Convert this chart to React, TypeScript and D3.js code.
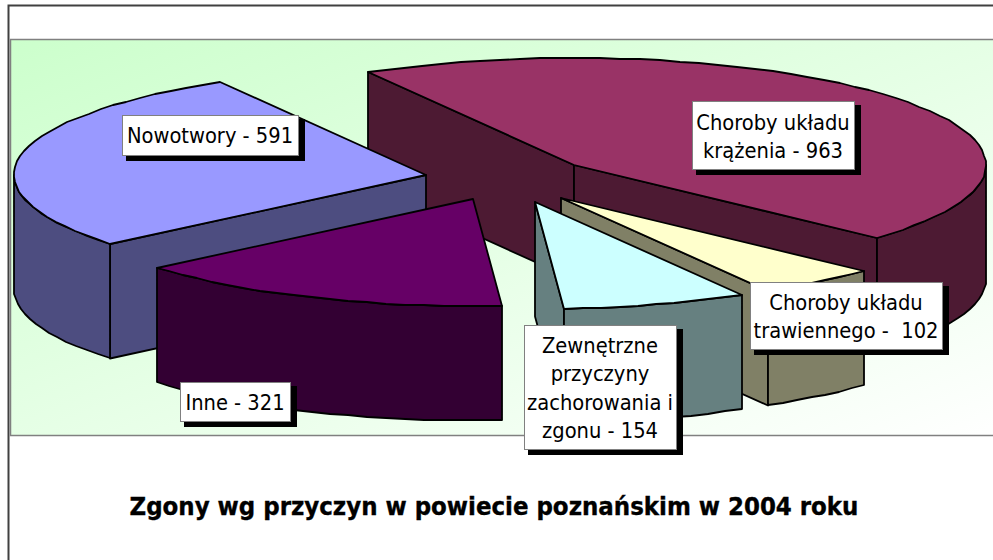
import React from "react";
import * as d3 from "d3";

const categories = [
  "Choroby układu krążenia",
  "Choroby układu trawiennego",
  "Zewnętrzne przyczyny zachorowania i zgonu",
  "Inne",
  "Nowotwory",
];
const values = [963, 102, 154, 321, 591];
const topColors = ["#993366", "#FFFFCC", "#CCFFFF", "#660066", "#9999FF"];
const wallColors = ["#4D1A33", "#808066", "#668080", "#330033", "#4D4D80"];
const labelLines = [
  ["Choroby układu", "krążenia - 963"],
  ["Choroby układu", "trawiennego -  102"],
  ["Zewnętrzne", "przyczyny", "zachorowania i", "zgonu - 154"],
  ["Inne - 321"],
  ["Nowotwory - 591"],
];
const title = "Zgony wg przyczyn w powiecie poznańskim w 2004 roku";

// layout (exploded slice centres and label boxes)
const W = 993, H = 560;
const RX = 412, RY = 107, DEPTH = 114.5;
const centres: [number, number][] = [[574, 165], [561, 198], [535, 202], [473, 199], [426, 175]];
const boxes = [
  { x: 692, y: 101, w: 162, h: 68, base: 130 },
  { x: 750, y: 282, w: 192, h: 67, base: 310 },
  { x: 524, y: 325, w: 152, h: 124, base: 353 },
  { x: 180, y: 382, w: 110, h: 39, base: 410 },
  { x: 122, y: 115, w: 176, h: 40, base: 143 },
];
const drawOrder = [0, 4, 3, 1, 2];
const LINE = 28.3;
const FONT = "'DejaVu Sans Condensed','DejaVu Sans',sans-serif";

const pie = d3.pie<number>().sort(null).startAngle(-Math.PI / 6).endAngle(2 * Math.PI - Math.PI / 6);
const arcs = pie(values);
const line = d3.line();
const STEP = Math.PI / 64;

function pt(c: [number, number], a: number, dy = 0): [number, number] {
  return [Math.round(c[0] + RX * Math.sin(a)), Math.round(c[1] - RY * Math.cos(a) + dy)];
}
function samples(a0: number, a1: number): number[] {
  const n = Math.max(1, Math.ceil((a1 - a0) / STEP));
  return d3.range(n + 1).map((i) => a0 + ((a1 - a0) * i) / n);
}

function Slice({ i }: { i: number }) {
  const a0 = arcs[i].startAngle, a1 = arcs[i].endAngle;
  const c = centres[i];
  const walls: string[] = [];
  // radial walls facing the viewer
  if (Math.sin(a0) < 0) {
    const p = pt(c, a0);
    walls.push(line([c, p, [p[0], p[1] + DEPTH], [c[0], c[1] + DEPTH]])! + "Z");
  }
  if (Math.sin(a1) > 0) {
    const p = pt(c, a1);
    walls.push(line([c, p, [p[0], p[1] + DEPTH], [c[0], c[1] + DEPTH]])! + "Z");
  }
  // curved wall on the front half of the rim
  const f0 = Math.max(a0, Math.PI / 2), f1 = Math.min(a1, (3 * Math.PI) / 2);
  if (f1 > f0) {
    const s = samples(f0, f1);
    walls.push(line([...s.map((a) => pt(c, a)), ...s.slice().reverse().map((a) => pt(c, a, DEPTH))])! + "Z");
  }
  const top = line([c, ...samples(a0, a1).map((a) => pt(c, a))])! + "Z";
  return (
    <g stroke="#000" strokeWidth={1.8} strokeLinejoin="round">
      {walls.map((d, k) => <path key={k} d={d} fill={wallColors[i]} />)}
      <path d={top} fill={topColors[i]} />
    </g>
  );
}

function Label({ i }: { i: number }) {
  const b = boxes[i];
  return (
    <g>
      <rect x={b.x + 4} y={b.y + 4} width={b.w + 3} height={b.h + 2} fill="#000" />
      <rect x={b.x + 0.5} y={b.y + 0.5} width={b.w} height={b.h} fill="#fff" stroke="#808080" strokeWidth={1} />
      {labelLines[i].map((t, k) => (
        <text key={k} x={b.x + b.w / 2} y={b.base + k * LINE} textAnchor="middle" fontFamily={FONT}
          fontSize={21.7} fill="#000" style={{ whiteSpace: "pre" }}>{t}</text>
      ))}
    </g>
  );
}

export default function App() {
  return (
    <svg width={W} height={H} viewBox={`0 0 ${W} ${H}`}
      style={{ position: "absolute", left: 0, top: 0, display: "block", background: "#fff" }}
      aria-label={categories.join(", ")}>
      <defs>
        <linearGradient id="bg" x1="0" y1="0" x2="1" y2="1">
          <stop offset="0" stopColor="#CCFFCC" />
          <stop offset="1" stopColor="#FFFFFF" />
        </linearGradient>
      </defs>
      <path d={`M${W} 5.5H8.5V${H}`} fill="none" stroke="#404040" strokeWidth={2} />
      <rect x={10.5} y={39.5} width={W + 10} height={396} fill="url(#bg)" stroke="#808080" strokeWidth={1.5} />
      {drawOrder.map((i) => <Slice key={i} i={i} />)}
      {drawOrder.map((i) => <Label key={i} i={i} />)}
      <text x={494} y={515} textAnchor="middle" fontFamily={FONT} fontWeight="bold" fontSize={25.5}
        fill="#000" stroke="#000" strokeWidth={0.35}>{title}</text>
    </svg>
  );
}
